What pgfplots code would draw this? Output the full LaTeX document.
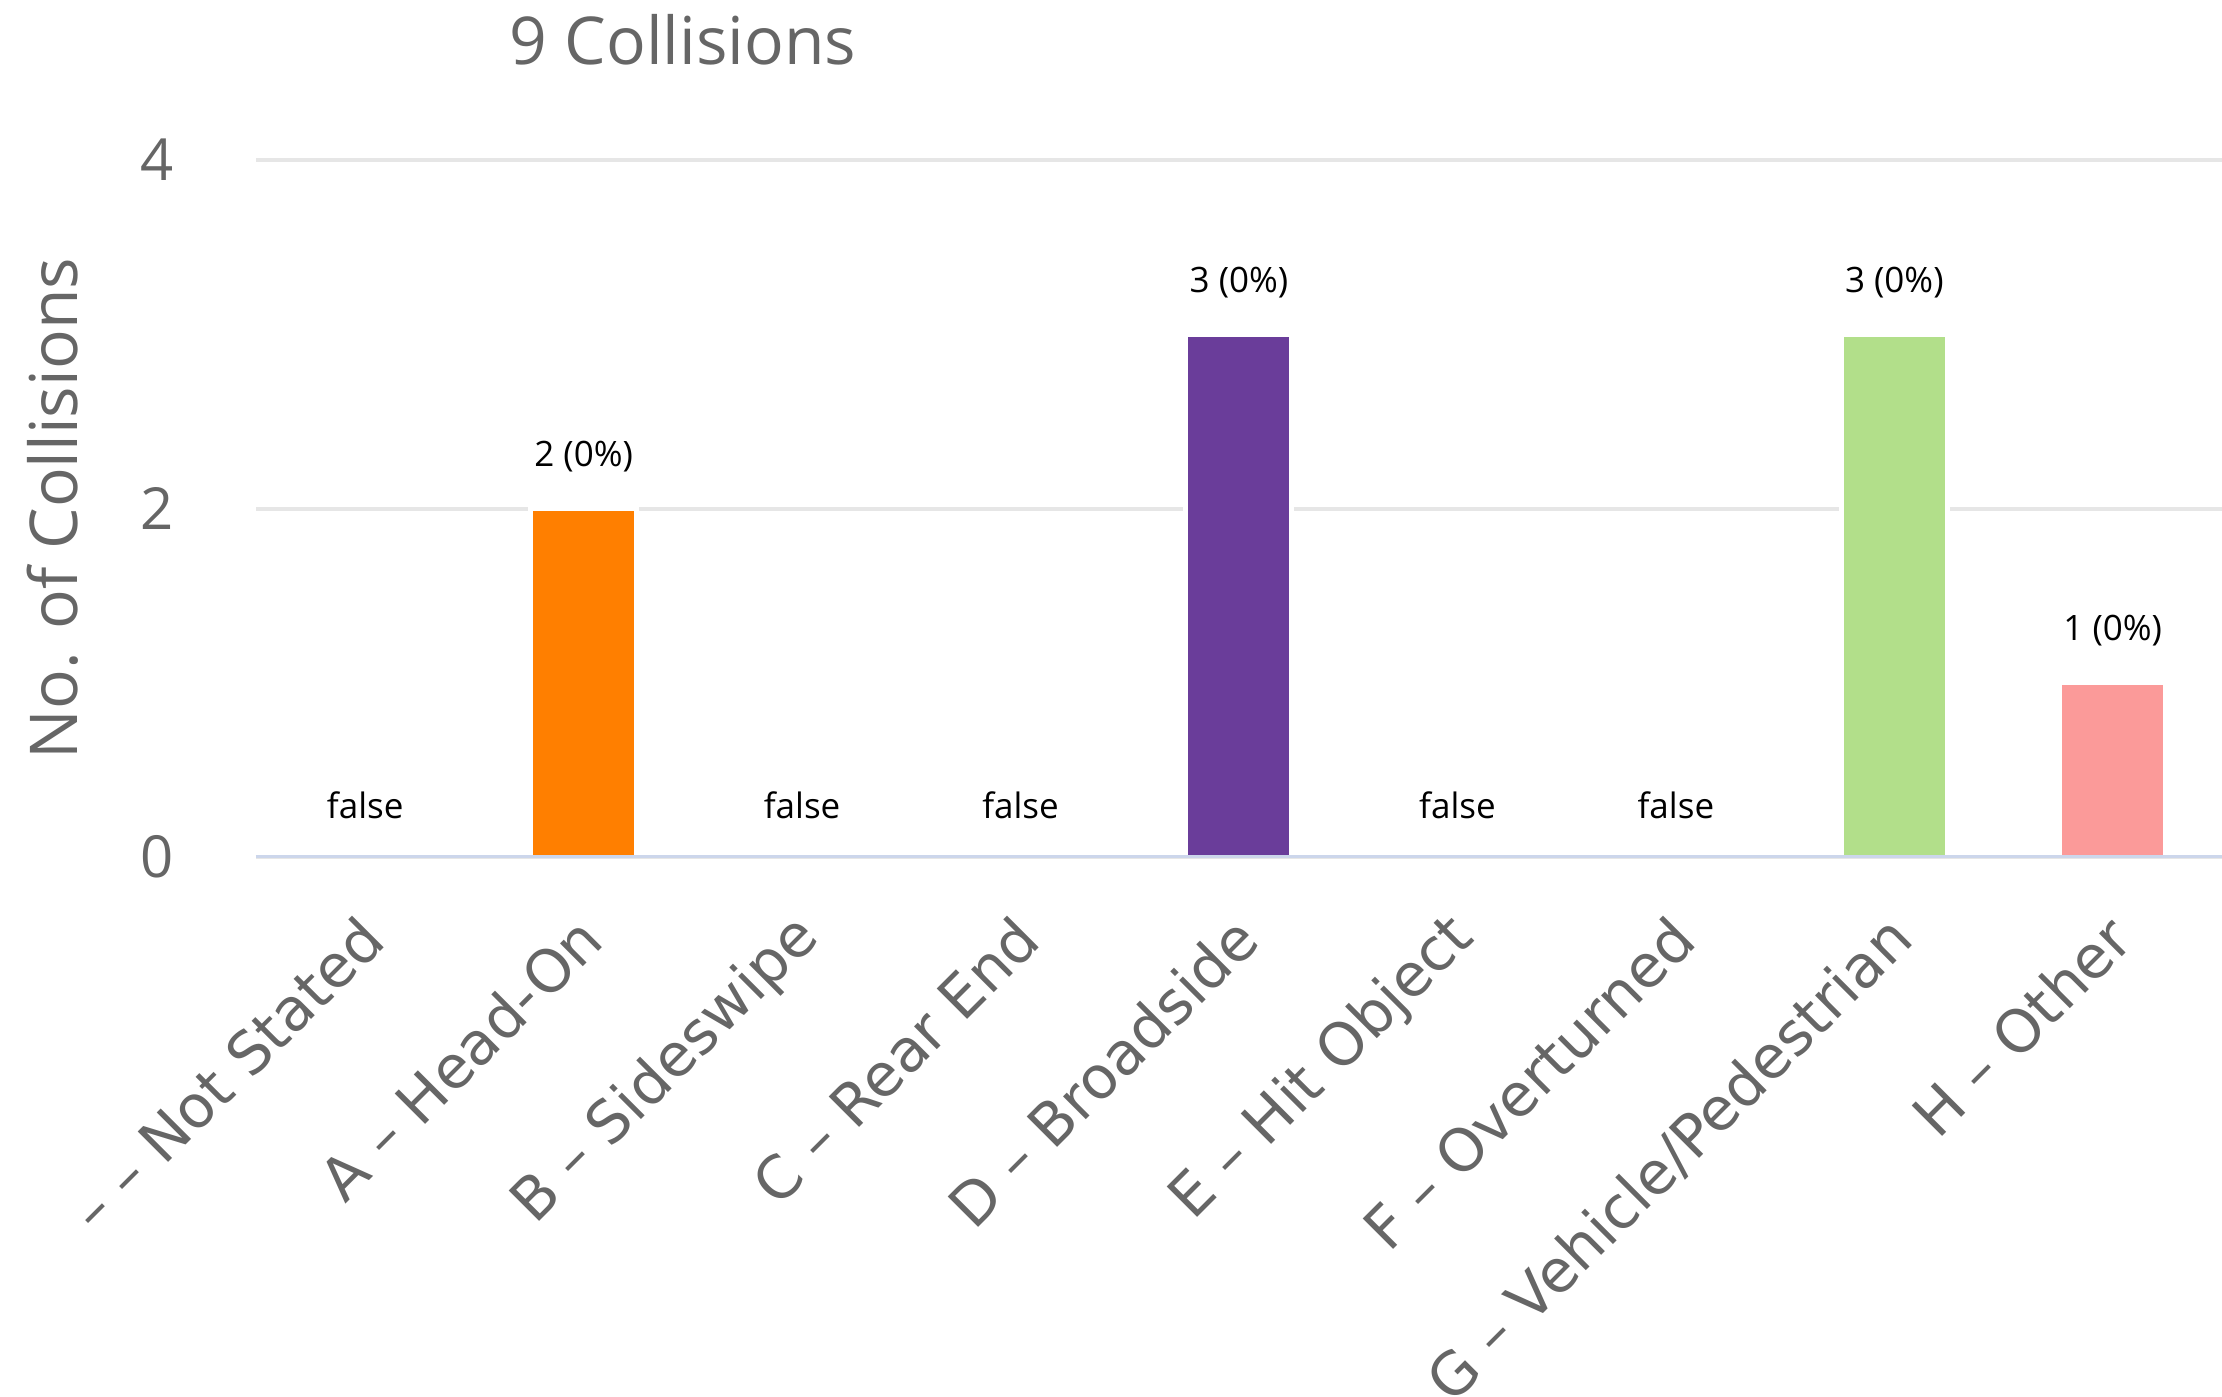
\documentclass[border=0pt]{standalone}
\usepackage{fontspec}
\setmainfont{Open Sans}
\newfontfamily\catfont{DejaVu Sans}
\usepackage{pgfplots}
\pgfplotsset{compat=1.18}
\usepackage{pgfplotstable}

\definecolor{txtgray}{HTML}{666666}
\definecolor{gridgray}{HTML}{E6E6E6}
\definecolor{baseblue}{HTML}{CCD6EB}
\definecolor{barorange}{HTML}{FF7F00}
\definecolor{barpurple}{HTML}{6A3D9A}
\definecolor{bargreen}{HTML}{B2DF8A}
\definecolor{barpink}{HTML}{FB9A99}

% count per collision type, with its data label
\pgfplotstableread[col sep=comma]{
x,y,label
0,0,false
1,2,2 (0\%)
2,0,false
3,0,false
4,3,3 (0\%)
5,0,false
6,0,false
7,3,3 (0\%)
8,1,1 (0\%)
}\collisions

\begin{document}
\begin{tikzpicture}
\useasboundingbox (-128pt,-270pt) rectangle (983pt,428.5pt);
\begin{axis}[
    at={(0,0)}, anchor=south west,
    scale only axis,
    width=983pt, height=348.5pt,
    xmin=-0.5, xmax=8.5,
    ymin=0, ymax=4,
    bar width=53pt,
    axis line style={draw=none},
    major tick length=0pt,
    ytick={0,2,4},
    xtick={0,...,8},
    xticklabels={– – Not Stated, A – Head-On, B – Sideswipe, C – Rear End,
        D – Broadside, E – Hit Object, F – Overturned,
        G – Vehicle/Pedestrian, H – Other},
    ymajorgrids,
    grid style={draw=gridgray, line width=2pt},
    /pgf/number format/assume math mode=true,
    yticklabel style={font=\fontsize{29}{34}\selectfont, text=txtgray, xshift=-37.5pt},
    % shifts are in the rotated frame of the label
    xticklabel style={font=\catfont\fontsize{29.5}{35}\selectfont, text=txtgray,
        rotate=45, anchor=east, inner sep=0pt, xshift=-22.4pt, yshift=-27.7pt},
    ylabel={No. of Collisions},
    every axis y label/.style={at={(rel axis cs:0,0.5)}, rotate=90, anchor=center,
        yshift=101.5pt, font=\fontsize{33}{40}\selectfont, text=txtgray},
    title={9 Collisions},
    every axis title/.style={at={(rel axis cs:0,1)}, anchor=center,
        xshift=213.5pt, yshift=60pt, font=\fontsize{33}{40}\selectfont, text=txtgray},
]

\addplot[ybar, bar shift=0pt, fill=barorange, draw=white, line width=2.5pt]
    coordinates {(1,2)};
\addplot[ybar, bar shift=0pt, fill=barpurple, draw=white, line width=2.5pt]
    coordinates {(4,3)};
\addplot[ybar, bar shift=0pt, fill=bargreen, draw=white, line width=2.5pt]
    coordinates {(7,3)};
\addplot[ybar, bar shift=0pt, fill=barpink, draw=white, line width=2.5pt]
    coordinates {(8,1)};

% data labels
\addplot[draw=none, mark=none,
    point meta=explicit symbolic,
    nodes near coords,
    every node near coord/.style={anchor=center, yshift=26pt,
        font=\fontsize{17.5}{21}\selectfont, text=black}]
    table[x=x, y=y, meta=label] {\collisions};

\draw[baseblue, line width=2.5pt] (axis cs:-0.5,0) -- (axis cs:8.5,0);
\end{axis}
\end{tikzpicture}
\end{document}
